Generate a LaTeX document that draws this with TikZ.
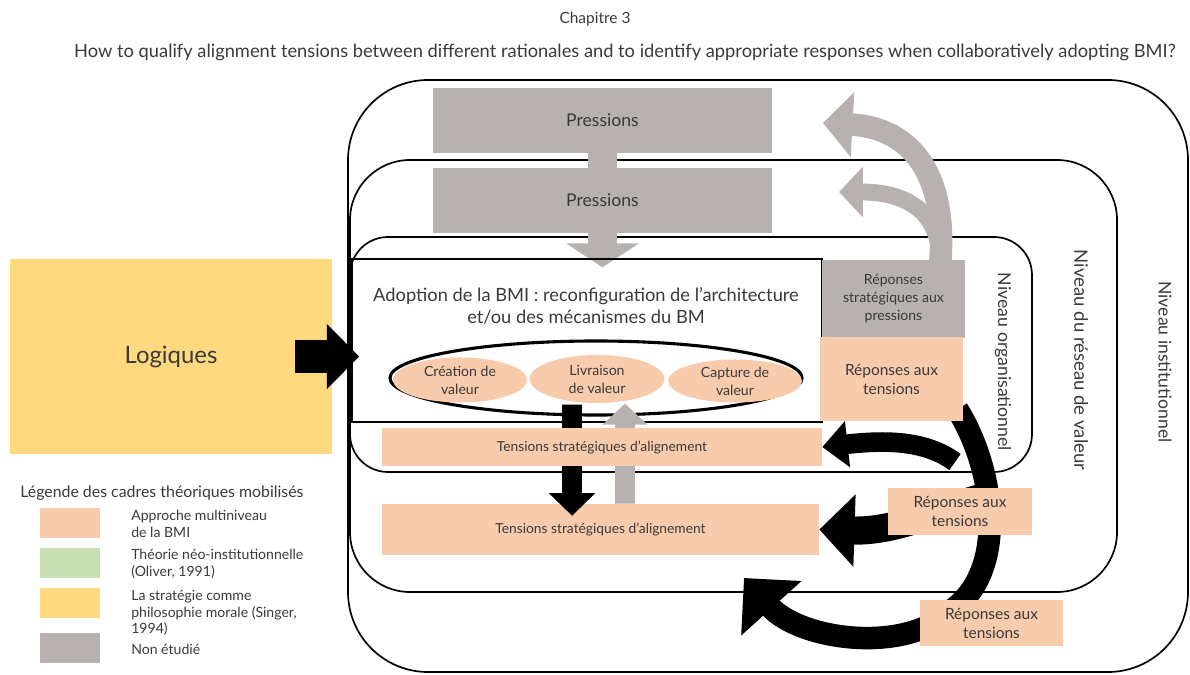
\documentclass[tikz,border=0pt]{standalone}
\usepackage{fontspec}
\setmainfont{Lato}
\usepackage{tikz}
\usetikzlibrary{arrows.meta,shapes.geometric}

\definecolor{peach}{HTML}{F8CBAD}
\definecolor{stone}{HTML}{B7B1B0}
\definecolor{straw}{HTML}{FFD980}
\definecolor{sage}{HTML}{C6E0B4}
\definecolor{ink}{HTML}{3A3A3A}

\tikzset{
	frame/.style={draw=black, line width=1.2pt},
	greybox/.style={fill=stone, text=ink, align=center, inner sep=0pt},
	peachbox/.style={fill=peach, text=ink, align=center, inner sep=0pt},
	peachell/.style={ellipse, fill=peach, text=ink, align=center, inner sep=0pt, font=\fontsize{10}{12.8}\selectfont},
	level/.style={rotate=-90, text=ink, font=\fontsize{13.2}{15}\selectfont},
	swatch/.style={minimum width=1.5cm, minimum height=0.75cm, inner sep=0pt},
	legtext/.style={anchor=west, align=left, inner sep=0pt, text=ink, font=\fontsize{10}{12}\selectfont},
	bigarrow/.style n args={3}{line width=#1, -{Triangle[width=#2, length=#3]}}
}

\begin{document}
\begin{tikzpicture}[x=0.025cm, y=-0.025cm]
		\useasboundingbox (0,0) rectangle (1190,675);

		\node[text=ink, font=\fontsize{11}{13}\selectfont] (chap) at (595,19) {Chapitre 3};
		\node[text=ink, font=\fontsize{13}{15}\selectfont] (quest) at (625,52) {How to qualify alignment tensions between different rationales and to identify appropriate responses when collaboratively adopting BMI?};

		\draw[frame, rounded corners=2cm] (348,80) rectangle (1188,672);
		\draw[frame, rounded corners=1.5cm] (350,160) rectangle (1117,592);
		\draw[frame, rounded corners=0.95cm] (350,237) rectangle (1032,472);
		\node[level, font=\fontsize{12.5}{15}\selectfont] (inst) at (1165,362) {Niveau institutionnel};
		\node[level] (reseau) at (1081,360) {Niveau du réseau de valeur};
		\node[level, font=\fontsize{12.6}{15}\selectfont] (orga) at (1003,362) {Niveau organisationnel};

		\node[greybox, minimum width=8.475cm, minimum height=1.625cm, font=\fontsize{12.5}{15}\selectfont] (pres1) at (602.5,120.5) {Pressions};
		\node[greybox, minimum width=8.475cm, minimum height=1.625cm, font=\fontsize{12.5}{15}\selectfont] (pres2) at (602.5,200.5) {Pressions};
		\draw[stone, line width=20pt] (pres1.south) -- (pres2.north);
		\draw[stone, bigarrow={20pt}{51pt}{17pt}] (pres2.south) -- ([yshift=-0.85cm]pres2.south);

		\node[fill=straw, minimum width=8.05cm, minimum height=4.875cm, text=ink, font=\fontsize{17}{20}\selectfont] (logi) at (171,356.5) {Logiques};

		\node[draw, line width=1.1pt, minimum width=11.75cm, minimum height=4.075cm, inner sep=0pt] (adopt) at (587,340.5) {};
		\node[text=ink, align=center, font=\fontsize{13}{15.5}\selectfont] (adopttxt) at (586,306) {Adoption de la BMI : reconfiguration de l’architecture\\et/ou des mécanismes du BM};
		\draw[bigarrow={24pt}{45pt}{23pt}] ([xshift=-0.925cm]logi.east) -- ([xshift=0.2cm]logi.east -| adopt.west);

		\node[ellipse, draw, line width=2.2pt, fill=white, minimum width=10.3cm, minimum height=1.85cm] (bm) at (596,378) {};
		\node[peachell, minimum width=3.35cm, minimum height=1.125cm] (crea) at (460,380) {Création de\\valeur};
		\node[peachell, minimum width=3.375cm, minimum height=1.2cm] (livr) at (597,379) {Livraison\\de valeur};
		\node[peachell, minimum width=3.35cm, minimum height=1.075cm] (capt) at (735,381) {Capture de\\valeur};

		\node[peachbox, minimum width=10.925cm, minimum height=1.275cm, font=\fontsize{9.8}{11}\selectfont] (tens2) at (600.5,529.5) {Tensions stratégiques d’alignement};
		\draw[bigarrow={14pt}{32pt}{16pt}] ([xshift=-0.6cm, yshift=0.3cm]bm.south) -- ([xshift=-0.71cm, yshift=-0.3cm]tens2.north);
		\draw[stone, bigarrow={14pt}{31pt}{15pt}] ([xshift=0.61cm]tens2.north) -- ([xshift=0.725cm, yshift=0.325cm]bm.south);
		\node[peachbox, minimum width=11cm, minimum height=0.95cm, font=\fontsize{9.8}{11}\selectfont] (tens1) at (602,447) {Tensions stratégiques d’alignement};

		\coordinate (g1tip) at (823,123);
		\coordinate (g2tip) at (839,192);
		\coordinate (netbot) at (744,578);
		\coordinate (fork1) at (955,462);
		\coordinate (fork2) at (985,497);

		\node[greybox, minimum width=3.575cm, minimum height=1.95cm, font=\fontsize{10}{12.8}\selectfont] (rpres) at (893.5,299) {Réponses\\stratégiques aux\\pressions};
		\draw[stone, bigarrow={16pt}{45pt}{21pt}] ([xshift=1.16cm, yshift=-0.15cm]rpres.north) .. controls (948,180) and (915,128) .. (g1tip);
		\draw[stone, bigarrow={12pt}{35pt}{17pt}] ([xshift=1.16cm, yshift=-0.15cm]rpres.north) .. controls (942,215) and (910,192) .. (g2tip);
		\node[greybox, minimum width=3.575cm, minimum height=1.95cm, font=\fontsize{10}{12.8}\selectfont] at (rpres) {Réponses\\stratégiques aux\\pressions};

		\node[peachbox, minimum width=3.575cm, minimum height=2.1cm] (rint) at (891.5,379) {};
		\draw[bigarrow={16pt}{56pt}{29pt}] ([xshift=-0.15cm, yshift=0.3cm]rint.south east) .. controls (995,470) and (1008,570) .. (952,610) .. controls (905,655) and (800,640) .. (netbot);
		\draw[bigarrow={14pt}{32pt}{18pt}] (fork1) .. controls (925,440) and (885,440) .. (tens1.east);
		\draw[bigarrow={20pt}{50pt}{25pt}] (fork2) .. controls (950,505) and (900,532) .. (tens2.east);
		\node[peachbox, minimum width=3.575cm, minimum height=2.1cm, font=\fontsize{11}{13.5}\selectfont] at (rint) {Réponses aux\\tensions};
		\node[peachbox, minimum width=3.6cm, minimum height=1.175cm, font=\fontsize{11}{13.5}\selectfont] (rres) at (960,511.5) {Réponses aux\\tensions};
		\node[peachbox, minimum width=3.575cm, minimum height=1.15cm, font=\fontsize{11}{13.5}\selectfont] (rins) at (991.5,623) {Réponses aux\\tensions};

		\node[anchor=west, inner sep=0pt, text=ink, font=\fontsize{11.3}{13}\selectfont] (legtitle) at (20,493) {Légende des cadres théoriques mobilisés};
		\node[swatch, fill=peach] (swA) at (70,523) {};
		\node[legtext] (txtA) at (131,524) {Approche multiniveau\\de la BMI};
		\node[swatch, fill=sage] (swB) at (70,563) {};
		\node[legtext] (txtB) at (131,564) {Théorie néo-institutionnelle\\(Oliver, 1991)};
		\node[swatch, fill=straw] (swC) at (70,603) {};
		\node[legtext] (txtC) at (131,613) {La stratégie comme\\philosophie morale (Singer,\\1994)};
		\node[swatch, fill=stone] (swD) at (70,648) {};
		\node[legtext] (txtD) at (131,649) {Non étudié};
	\end{tikzpicture}
\end{document}
